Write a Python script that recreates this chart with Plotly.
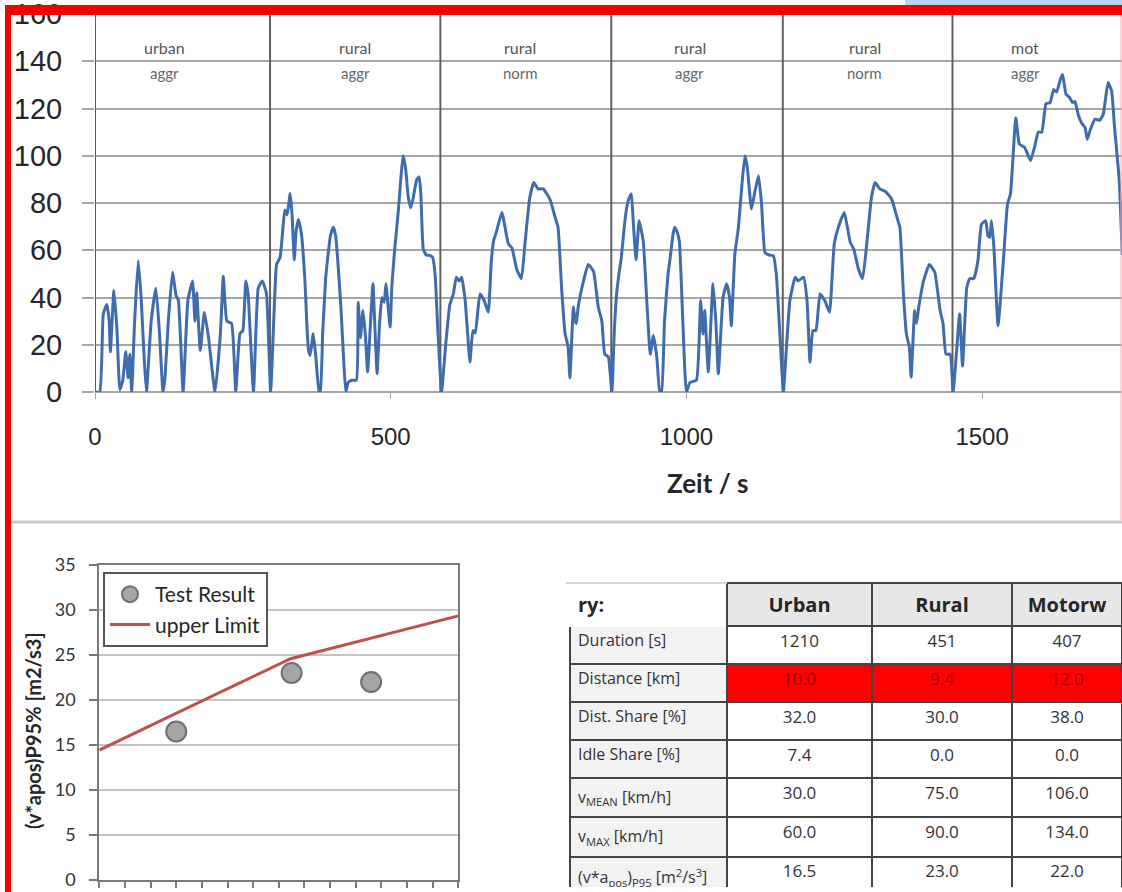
import plotly.graph_objects as go

W, H = 1122, 892

# ---------------- data: speed trace (Zeit / s, km/h) ----------------
urban_t = [0, 8, 14, 20, 24, 26, 32, 37, 42, 47, 52, 56, 59, 62, 67, 73, 78, 83, 87, 95, 103, 109, 115, 118, 124, 131, 137, 141, 149,
           157, 165, 169, 172, 178, 185, 192, 203, 212, 217, 223, 231, 238, 245, 250, 255, 259, 268, 276, 283, 290, 297]
urban_v = [0, 0, 33, 37, 30, 17, 43, 27, 1, 5, 17, 6, 16, 0, 30, 55.6, 40, 15, 0, 30, 44, 25, 0, 5, 30, 50.7, 41, 38.7, 0,
           38.7, 47, 30, 42, 17.6, 33.8, 23, 0, 24.6, 49, 30, 29, 0, 24.6, 26, 47, 41, 0, 44, 47, 41.6, 0]

rur_a1_t = [303, 307, 313, 318, 321, 325, 330, 333, 337, 340, 344, 349, 355, 358, 361, 364, 369, 373, 379, 381, 385, 390, 393, 398,
            403, 407, 411, 416, 420, 424, 428, 434, 442, 445, 449, 453, 457, 461, 466, 470, 473, 477, 481, 485, 489, 492, 496, 499,
            502, 507, 513, 517, 521, 525, 530, 534, 538, 544, 548, 551, 555, 560, 566, 571, 575, 580, 586]
rur_a1_v = [35, 54, 57, 70, 77, 75, 84, 76, 56, 68, 73, 67, 47, 30, 17.6, 15.5, 24.7, 16, 0, 0, 25, 48, 55.6, 66,
            69.8, 66, 54, 35, 16, 0, 4, 5, 5, 38, 23, 34.5, 24.7, 8.5, 30, 45.8, 29, 7.8, 28, 40, 38, 45.8, 35, 27.5,
            45, 61, 77, 90, 100, 95, 82, 78, 82, 90, 91, 84, 60.6, 58, 57.8, 57, 50, 25, 0]

rur_n1_t = [593, 600, 606, 611, 616, 620, 626, 630, 634, 639, 643, 651, 658, 665, 670, 674, 679, 688, 699, 705, 713, 721, 727, 735,
            742, 749, 758, 769, 778, 783, 789, 795, 800, 803, 809, 812, 814, 817, 826, 834, 843, 851, 857, 862, 868, 874]
rur_n1_v = [20, 37, 41.5, 48.6, 47, 48.6, 38.7, 25, 12.7, 26, 25, 41.5, 38.7, 33.8, 55, 64, 68, 76, 62.7, 61, 52, 48, 62.7, 82,
            88.7, 86, 86, 81.7, 74, 69.7, 44, 24.6, 19, 6, 36, 30, 29, 36, 47, 54, 51, 36, 30, 16, 14.8, 0]

rur_a2_t = [878, 882, 886, 890, 895, 899, 903, 907, 910, 915, 920, 927, 933, 939, 944, 950, 955, 958, 963, 969, 972, 977, 980, 984,
            988, 994, 1000, 1006, 1017, 1024, 1028, 1031, 1037, 1045, 1050, 1054, 1062, 1068, 1073, 1076, 1082, 1088, 1094, 1099,
            1103, 1110, 1116, 1122, 1127, 1133, 1140, 1147, 1152, 1158, 1164]
rur_a2_v = [25, 41.5, 50, 57, 70, 78, 82, 83.8, 72.5, 56, 72.5, 64, 38.7, 16, 24, 14.8, 0, 0, 30, 50, 55.6, 66, 69.7, 68,
            64, 30, 0, 4, 5, 38.7, 24.6, 34.5, 8.5, 45.8, 29, 7.7, 40, 45.8, 40, 28, 58.5, 69.7, 88, 100,
            95, 77.5, 85, 91.5, 80, 59, 58, 57.7, 50, 25, 0]

rur_n2_t = [1170, 1175, 1184, 1189, 1198, 1204, 1209, 1214, 1219, 1226, 1234, 1242, 1250, 1257, 1267, 1277, 1283, 1291, 1298, 1305,
            1313, 1319, 1327, 1336, 1347, 1356, 1361, 1367, 1372, 1377, 1380, 1386, 1389, 1393, 1401, 1411, 1420, 1429, 1434,
            1439, 1446, 1451]
rur_n2_v = [22, 38.7, 48.6, 47, 48.6, 38.7, 12.7, 26, 26, 41.5, 38.7, 33.8, 62.7, 69.7, 76, 63.4, 60.5, 52, 48, 62.7,
            82.4, 88.7, 86, 85, 81.7, 74, 69.7, 41.5, 24.6, 19, 6.3, 34.5, 29, 36, 47, 54, 50.7, 34.5, 29,
            16, 16, 0]

mot_t = [1457, 1462, 1467, 1474, 1479, 1486, 1493, 1499, 1506, 1510, 1513, 1516, 1520, 1527, 1536, 1543, 1548, 1557, 1563, 1572,
         1582, 1589, 1595, 1601, 1608, 1615, 1621, 1626, 1632, 1636, 1642, 1648, 1653, 1657, 1663, 1668, 1674, 1678, 1683,
         1691, 1699, 1705, 1713, 1719, 1724, 1732, 1737]
mot_v = [17.6, 33, 11, 44, 48, 48, 55.6, 71, 72.5, 66, 65.5, 72.5, 61, 28, 55.6, 79.6, 83.8, 116, 105, 103.5,
         98, 104, 110, 110, 122, 122.5, 128, 127, 132, 134.5, 126, 124.6, 122.5, 123, 117, 114, 112, 107, 111,
         115.5, 115, 117.6, 131, 127.5, 112, 89.4, 58]

speed_t = urban_t + rur_a1_t + rur_n1_t + rur_a2_t + rur_n2_t + mot_t
speed_v = urban_v + rur_a1_v + rur_n1_v + rur_a2_v + rur_n2_v + mot_v

segment_bounds = [0, 296, 584, 873, 1163, 1450]
segment_label_x = [118, 440, 719, 1006, 1302, 1573]
segment_top = ["urban", "rural", "rural", "rural", "rural", "mot"]
segment_bottom = ["aggr", "aggr", "norm", "aggr", "norm", "aggr"]
speed_ticks = [0, 500, 1000, 1500]

# ---------------- data: dynamics check ----------------
test_vmean = [30, 75, 106]
test_p95 = [16.5, 23.0, 22.0]
limit_vmean = [0, 74.6, 140]
limit_p95 = [14.44, 24.59, 29.35]

# ---------------- data: table ----------------
row_labels = ["Duration [s]", "Distance [km]", "Dist. Share [%]", "Idle Share [%]",
              "v<sub>MEAN</sub> [km/h]", "v<sub>MAX</sub> [km/h]",
              "(v*a<sub>pos</sub>)<sub>P95</sub> [m<sup>2</sup>/s<sup>3</sup>]"]
col_headers = ["ry:", "Urban", "Rural", "Motorw"]
urban_vals = ["1210", "10.0", "32.0", "7.4", "30.0", "60.0", "16.5"]
rural_vals = ["451", "9.4", "30.0", "0.0", "75.0", "90.0", "23.0"]
motor_vals = ["407", "12.0", "38.0", "0.0", "106.0", "134.0", "22.0"]

# ---------------- helpers ----------------
def px(x):
    return x / W

def py(y):
    return 1 - y / H

FONT = "Lato, 'Open Sans', sans-serif"
TFONT = "'Open Sans', Lato, sans-serif"
NUMFONT = "'Liberation Sans', Arial, sans-serif"
GRID = "#a6a6a6"
BLUE = "#3f6cad"

fig = go.Figure()

fig.add_trace(go.Scatter(
    x=speed_t, y=speed_v, mode="lines", xaxis="x", yaxis="y",
    line=dict(color=BLUE, width=3, shape="spline", smoothing=0.4),
    showlegend=False, hoverinfo="skip"))

fig.add_trace(go.Scatter(
    x=test_vmean, y=test_p95, mode="markers", name="Test Result", xaxis="x2", yaxis="y2",
    marker=dict(size=20, color="#a5a5a5", line=dict(color="#6f6f6f", width=2))))

fig.add_trace(go.Scatter(
    x=limit_vmean, y=limit_p95, mode="lines", name="upper Limit", xaxis="x2", yaxis="y2",
    line=dict(color="#c0504d", width=3)))

n = len(row_labels)
label_fill = ["#f2f2f2"] * n
val_fill = ["white"] * n
val_fill[1] = "#ff0000"
val_font = ["#333333"] * n
val_font[1] = "#9c0000"

fig.add_trace(go.Table(
    domain=dict(x=[px(570), 1.0], y=[py(888), py(583)]),
    columnwidth=[157, 145, 140, 110],
    header=dict(
        values=["<b>" + h + "</b>" for h in col_headers],
        fill=dict(color=["white", "#e7e7e7", "#e7e7e7", "#e7e7e7"]),
        line=dict(color=["white", "#444444", "#444444", "#444444"], width=2),
        align=["left", "center", "center", "center"],
        font=dict(family=TFONT, size=20, color="#262626"),
        height=39),
    cells=dict(
        values=[row_labels, urban_vals, rural_vals, motor_vals],
        fill=dict(color=[label_fill, val_fill, val_fill, val_fill]),
        line=dict(color="#444444", width=2),
        align=["left", "center", "center", "center"],
        font=dict(family=TFONT, size=[16, 17, 17, 17],
                  color=["#333333", val_font, val_font, val_font]),
        height=38)))

shapes = []
for b in segment_bounds:
    shapes.append(dict(type="line", xref="x", yref="y", x0=b, x1=b, y0=0, y1=160,
                       line=dict(color="#5f5f5f", width=2), layer="between"))

# separator line between the two halves
shapes.append(dict(type="line", xref="paper", yref="paper", x0=px(10), x1=1, y0=py(522), y1=py(522),
                   line=dict(color="#c8c8c8", width=3)))
# thin line above table label column
shapes.append(dict(type="line", xref="paper", yref="paper", x0=px(566), x1=px(727), y0=py(583), y1=py(583),
                   line=dict(color="#d6d6d6", width=2)))
# red frame
shapes.append(dict(type="rect", xref="paper", yref="paper", x0=px(6), x1=1, y0=py(15), y1=py(5),
                   fillcolor="#f00000", line=dict(width=0), layer="above"))
shapes.append(dict(type="rect", xref="paper", yref="paper", x0=px(5), x1=px(11), y0=0, y1=py(5),
                   fillcolor="#f00000", line=dict(width=0), layer="above"))
shapes.append(dict(type="line", xref="paper", yref="paper", x0=px(1121), x1=px(1121), y0=py(520), y1=py(15),
                   line=dict(color="#f3b0b0", width=1), layer="above"))
# light blue tab at top right
shapes.append(dict(type="rect", xref="paper", yref="paper", x0=px(905), x1=1, y0=py(5), y1=1,
                   fillcolor="#b9d5ec", line=dict(width=0), layer="above"))

annotations = []
for lx, t1, t2 in zip(segment_label_x, segment_top, segment_bottom):
    annotations.append(dict(x=lx, y=146, xref="x", yref="y", text=t1, showarrow=False,
                            font=dict(family=FONT, size=16, color="#555555")))
    annotations.append(dict(x=lx, y=135, xref="x", yref="y", text=t2, showarrow=False,
                            font=dict(family=FONT, size=15, color="#666666")))

annotations.append(dict(x=px(708), y=py(483), xref="paper", yref="paper", text="<b>Zeit / s</b>",
                        xanchor="center", yanchor="middle", showarrow=False,
                        font=dict(family=FONT, size=26, color="#262626")))
annotations.append(dict(x=px(33), y=py(731), xref="paper", yref="paper",
                        text="<b>(v*apos)P95% [m2/s3]</b>", textangle=-90, showarrow=False,
                        xanchor="center", yanchor="middle",
                        font=dict(family=FONT, size=20, color="#262626")))

fig.update_layout(
    width=W, height=H,
    margin=dict(l=0, r=0, t=0, b=0, autoexpand=False),
    paper_bgcolor="white", plot_bgcolor="white",
    font=dict(family=FONT, color="#262626"),
    xaxis=dict(domain=[px(95), 1.0], range=[0, 1736.6], anchor="y", automargin=False,
               tickvals=speed_ticks, showgrid=False, zeroline=False, showline=False,
               ticks="outside", ticklen=6, tickcolor=GRID, tickwidth=1,
               ticklabelstandoff=17, ticklabeloverflow="allow",
               tickfont=dict(family=NUMFONT, size=24, color="#262626")),
    yaxis=dict(domain=[py(392), py(14)], range=[0, 160], anchor="x", dtick=20, automargin=False,
               showgrid=True, gridcolor=GRID, gridwidth=2,
               zeroline=True, zerolinecolor=GRID, zerolinewidth=2, showline=False,
               ticks="outside", ticklen=12, tickcolor=GRID, tickwidth=2,
               ticklabelstandoff=14, ticklabeloverflow="allow",
               tickfont=dict(family=NUMFONT, size=29, color="#262626")),
    xaxis2=dict(domain=[px(99.3), px(458.3)], range=[0, 140], anchor="y2", dtick=10, automargin=False,
                showgrid=False, zeroline=False, showline=True, linecolor="#7a7a7a", linewidth=2,
                mirror=True, ticks="outside", ticklen=6, tickcolor="#7a7a7a", tickwidth=2,
                showticklabels=False),
    yaxis2=dict(domain=[py(880), py(565)], range=[0, 35], anchor="x2", dtick=5, automargin=False,
                showgrid=True, gridcolor="#c4c4c4", gridwidth=2, zeroline=False,
                showline=True, linecolor="#7a7a7a", linewidth=2, mirror=True,
                ticks="outside", ticklen=8, tickcolor="#7a7a7a", tickwidth=2,
                ticklabelstandoff=10, ticklabeloverflow="allow",
                tickfont=dict(family=FONT, size=18, color="#333333")),
    legend=dict(x=px(103), y=py(572), xanchor="left", yanchor="top",
                bgcolor="white", bordercolor="#555555", borderwidth=2,
                font=dict(family=FONT, size=21, color="#262626"),
                tracegroupgap=0, itemwidth=40),
    shapes=shapes,
    annotations=annotations,
)

fig.write_html("out.html", config={"displayModeBar": False},
               post_script="document.body.style.margin='0';document.body.style.overflow='hidden';")
